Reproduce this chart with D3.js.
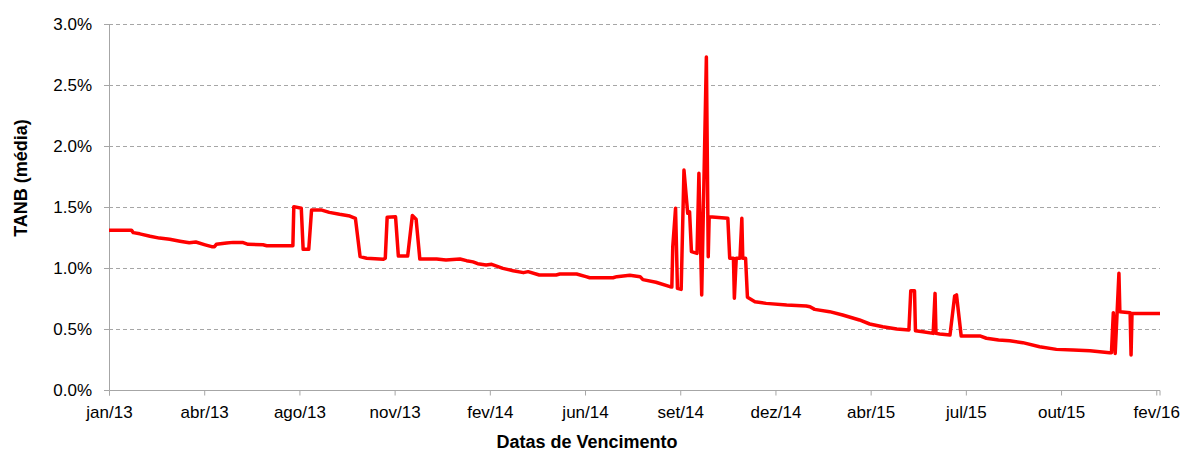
<!DOCTYPE html>
<html>
<head>
<meta charset="utf-8">
<script src="https://cdn.jsdelivr.net/npm/d3@7"></script>
<style>
  body { margin: 0; background: #fff; }
  svg { font-family: "Liberation Sans", Arial, sans-serif; }
  .grid line { stroke: #a6a6a6; stroke-dasharray: 4,3; }
  .axis path, .axis line { stroke: #a6a6a6; }
  .axis text { fill: #000; font-size: 17px; }
</style>
</head>
<body>
<div id="chart"></div>
<script>

// Data: vencimento dates and average TANB (%)
var dates = [
  "2013-01-12","2013-02-05","2013-02-07","2013-02-14","2013-02-25","2013-03-07","2013-03-18","2013-03-29",
  "2013-04-08","2013-04-15","2013-04-25","2013-05-02","2013-05-05","2013-05-07","2013-05-18","2013-05-25",
  "2013-06-04","2013-06-10","2013-06-26","2013-06-30","2013-07-28","2013-07-29","2013-08-06","2013-08-08",
  "2013-08-14","2013-08-17","2013-08-28","2013-09-05","2013-09-16","2013-09-27","2013-10-03","2013-10-08",
  "2013-10-15","2013-11-02","2013-11-04","2013-11-06","2013-11-15","2013-11-18","2013-11-28","2013-12-03",
  "2013-12-07","2013-12-11","2013-12-29","2014-01-08","2014-01-23","2014-01-30","2014-02-06","2014-02-11",
  "2014-02-20","2014-02-26","2014-03-10","2014-03-21","2014-04-01","2014-04-06","2014-04-18","2014-05-06",
  "2014-05-10","2014-05-28","2014-06-07","2014-06-11","2014-07-06","2014-07-10","2014-07-24","2014-08-04",
  "2014-08-07","2014-08-21","2014-09-05","2014-09-07","2014-09-08","2014-09-11","2014-09-13","2014-09-17",
  "2014-09-20","2014-09-24","2014-09-26","2014-09-28","2014-10-04","2014-10-06","2014-10-09","2014-10-14",
  "2014-10-16","2014-10-17","2014-11-06","2014-11-08","2014-11-12","2014-11-13","2014-11-15","2014-11-19",
  "2014-11-21","2014-11-22","2014-11-25","2014-11-27","2014-12-05","2014-12-17","2015-01-08","2015-01-29",
  "2015-02-02","2015-02-07","2015-02-23","2015-03-09","2015-03-27","2015-04-07","2015-04-21","2015-05-06",
  "2015-05-19","2015-05-21","2015-05-25","2015-05-26","2015-06-03","2015-06-14","2015-06-16","2015-06-17",
  "2015-06-21","2015-07-02","2015-07-07","2015-07-09","2015-07-14","2015-08-03","2015-08-10","2015-08-23",
  "2015-09-04","2015-09-18","2015-10-06","2015-10-24","2015-11-11","2015-11-29","2015-12-20","2015-12-22",
  "2015-12-24","2015-12-26","2015-12-30","2015-12-31","2016-01-11","2016-01-12","2016-01-13","2016-02-12"
];

var tanb = [
  1.31, 1.31, 1.29, 1.28, 1.26, 1.245, 1.235, 1.22,
  1.207, 1.213, 1.19, 1.175, 1.175, 1.194, 1.205, 1.21,
  1.21, 1.194, 1.19, 1.183, 1.183, 1.503, 1.49, 1.153,
  1.153, 1.475, 1.475, 1.456, 1.44, 1.426, 1.407, 1.093,
  1.08, 1.071, 1.08, 1.415, 1.42, 1.098, 1.098, 1.43,
  1.40, 1.074, 1.074, 1.066, 1.074, 1.06, 1.05, 1.035,
  1.025, 1.03, 0.997, 0.978, 0.962, 0.97, 0.943, 0.943,
  0.951, 0.951, 0.929, 0.92, 0.92, 0.929, 0.94, 0.929,
  0.905, 0.883, 0.847, 0.845, 1.175, 1.49, 0.833, 0.825,
  1.803, 1.448, 1.46, 1.134, 1.12, 1.776, 0.779, 2.73,
  1.093, 1.42, 1.407, 1.08, 1.08, 0.752, 1.08, 1.08,
  1.407, 1.08, 1.08, 0.76, 0.724, 0.71, 0.697, 0.689,
  0.683, 0.661, 0.642, 0.615, 0.574, 0.541, 0.519, 0.50,
  0.492, 0.814, 0.814, 0.486, 0.478, 0.464, 0.792, 0.464,
  0.459, 0.45, 0.77, 0.779, 0.443, 0.443, 0.424, 0.41,
  0.404, 0.388, 0.355, 0.333, 0.328, 0.322, 0.306, 0.306,
  0.634, 0.30, 0.956, 0.642, 0.634, 0.287, 0.628, 0.628
];

// Axis ticks
var tickDates = ["2013-01-12","2013-04-24","2013-08-04","2013-11-14","2014-02-24","2014-06-06",
                 "2014-09-16","2014-12-27","2015-04-08","2015-07-19","2015-10-29","2016-02-08"];
var tickLabels = ["jan/13","abr/13","ago/13","nov/13","fev/14","jun/14",
                  "set/14","dez/14","abr/15","jul/15","out/15","fev/16"];
var yTicks = [0, 0.5, 1.0, 1.5, 2.0, 2.5, 3.0];

var parseDate = d3.timeParse("%Y-%m-%d");

var data = dates.map(function(d, i) {
    return { date: parseDate(d), value: tanb[i] };
});


// --> CREATE SVG DRAWING AREA
var width = 1182,
    height = 452;

var margin = { top: 24, right: 22, bottom: 62, left: 109 };
var innerW = width - margin.left - margin.right,
    innerH = height - margin.top - margin.bottom;

var svg = d3.select("#chart").append("svg")
    .attr("width", width)
    .attr("height", height);

var g = svg.append("g")
    .attr("transform", "translate(" + margin.left + "," + margin.top + ")");


// Scales
var x = d3.scaleTime()
    .domain([parseDate("2013-01-12"), parseDate("2016-02-12")])
    .range([0, innerW]);

var y = d3.scaleLinear()
    .domain([0, 3.0])
    .range([innerH, 0]);


// Gridlines
g.append("g")
    .attr("class", "grid")
    .selectAll("line")
    .data(yTicks.filter(function(d) { return d > 0; }))
    .enter().append("line")
    .attr("x1", 0)
    .attr("x2", innerW)
    .attr("y1", function(d) { return Math.round(y(d)) + 0.5; })
    .attr("y2", function(d) { return Math.round(y(d)) + 0.5; });


// Axes
var yAxis = d3.axisLeft(y)
    .tickValues(yTicks)
    .tickSize(5)
    .tickPadding(12)
    .tickFormat(function(d) { return d.toFixed(1) + "%"; });

g.append("g")
    .attr("class", "axis")
    .call(yAxis)
    .call(function(sel) { sel.select(".domain").attr("d", "M-5,0.5H0.5V" + (innerH + 0.5)); });

var xAxis = d3.axisBottom(x)
    .tickValues(tickDates.map(parseDate))
    .tickSize(5)
    .tickPadding(10)
    .tickFormat(function(d, i) { return tickLabels[i]; });

g.append("g")
    .attr("class", "axis")
    .attr("transform", "translate(0," + (innerH + 0.5) + ")")
    .call(xAxis)
    .call(function(sel) { sel.select(".domain").attr("d", "M0.5,5V0H" + innerW + "V5"); });


// Line
var line = d3.line()
    .x(function(d) { return x(d.date); })
    .y(function(d) { return y(d.value); });

g.append("path")
    .datum(data)
    .attr("fill", "none")
    .attr("stroke", "#ff0000")
    .attr("stroke-width", 3.5)
    .attr("stroke-linejoin", "round")
    .attr("d", line);


// Axis titles
svg.append("text")
    .attr("transform", "translate(27,178) rotate(-90)")
    .attr("text-anchor", "middle")
    .style("font-size", "18px")
    .style("font-weight", "bold")
    .text("TANB (média)");

svg.append("text")
    .attr("x", 587)
    .attr("y", 448)
    .attr("text-anchor", "middle")
    .style("font-size", "18px")
    .style("font-weight", "bold")
    .text("Datas de Vencimento");

</script>
</body>
</html>
